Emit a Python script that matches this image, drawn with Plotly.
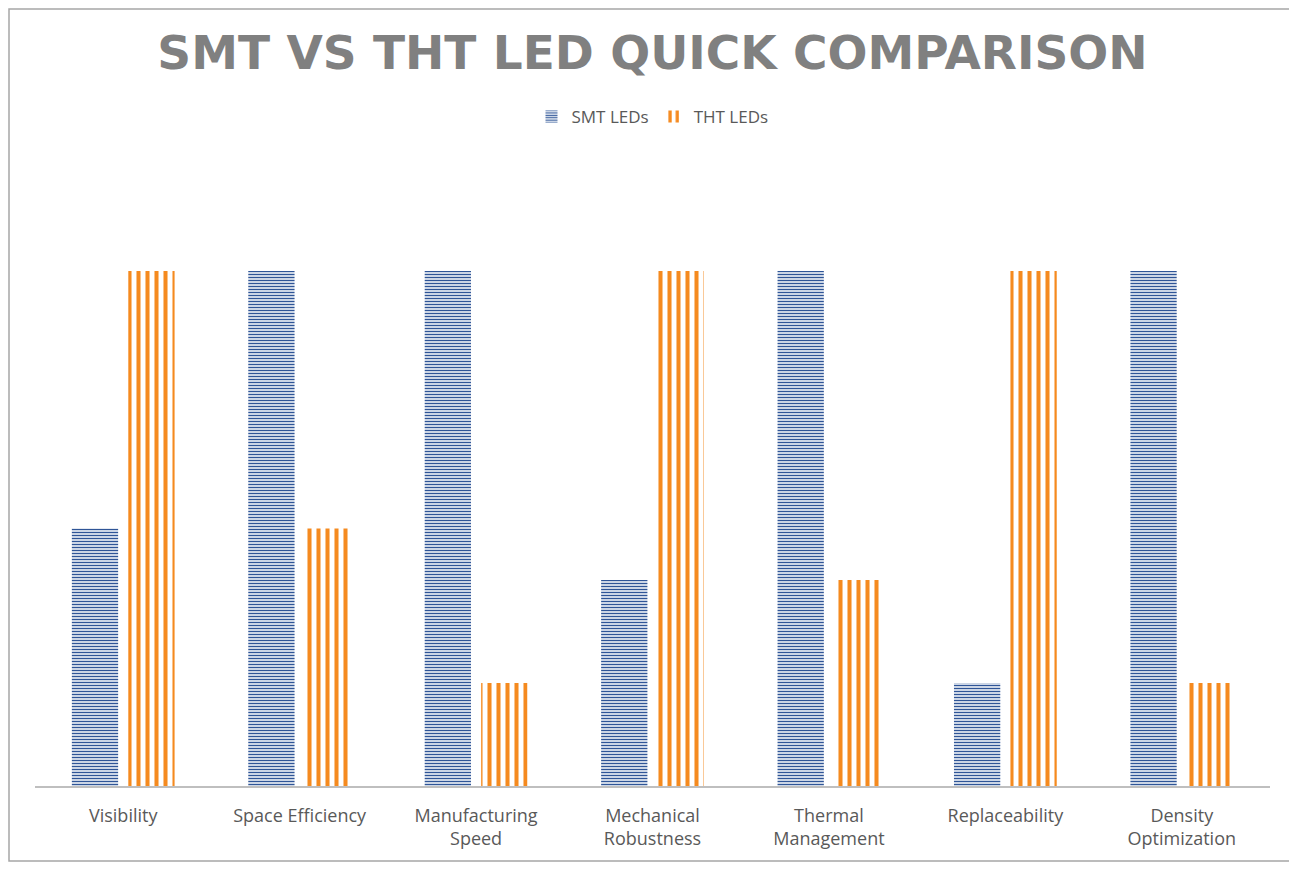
import plotly.graph_objects as go

categories = ["Visibility", "Space Efficiency", "Manufacturing<br>Speed", "Mechanical<br>Robustness",
              "Thermal<br>Management", "Replaceability", "Density<br>Optimization"]
smt_values = [5, 10, 10, 4, 10, 2, 10]
tht_values = [10, 5, 2, 10, 4, 10, 2]

# page has an 8px body margin, so the figure is sized/offset to compensate
W, H = 1289, 855
ML, MR, MT, MB = 27, 27, 160, 77

fig = go.Figure()
fig.add_trace(go.Bar(
    x=categories, y=smt_values, name="SMT LEDs",
    marker=dict(color="white", line=dict(width=0),
                pattern=dict(shape="-", fgcolor="#2F5597", bgcolor="white", size=3, solidity=0.5,
                             fgopacity=1, fillmode="overlay")),
))
fig.add_trace(go.Bar(
    x=categories, y=tht_values, name="THT LEDs",
    marker=dict(color="white", line=dict(width=0),
                pattern=dict(shape="|", fgcolor="#F58A1F", bgcolor="white", size=9, solidity=0.45,
                             fgopacity=1, fillmode="overlay")),
))

pw = W - ML - MR
ph = H - MT - MB
fig.add_shape(type="rect", xref="paper", yref="paper",
              x0=(1 - ML) / pw, x1=(W - 2 - ML) / pw,
              y0=-(H - 2 - MT - ph) / ph, y1=1 + (MT - 1) / ph,
              line=dict(color="#A6A6A6", width=1.5), fillcolor="rgba(0,0,0,0)", layer="below")

fig.update_layout(
    width=W, height=H,
    margin=dict(l=ML, r=MR, t=MT, b=MB),
    paper_bgcolor="white", plot_bgcolor="white",
    barmode="group", bargap=0.36, bargroupgap=0.18,
    title=dict(text="<b>SMT VS THT LED QUICK COMPARISON</b>", x=0.5, xanchor="center",
               y=1 - 45 / H, yanchor="middle",
               font=dict(family="DejaVu Sans", size=47, color="#808080")),
    legend=dict(orientation="h", x=0.5, xanchor="center", y=1 + (MT - 109) / ph, yanchor="middle",
                font=dict(family="Open Sans", size=17, color="#595959"), itemwidth=30),
    xaxis=dict(showline=True, linecolor="#BFBFBF", linewidth=2, ticks="",
               ticklabelstandoff=12,
               tickfont=dict(family="Open Sans", size=18, color="#595959")),
    yaxis=dict(range=[0, 12], visible=False, showgrid=False),
    showlegend=True,
)

fig.write_html("out.html")
